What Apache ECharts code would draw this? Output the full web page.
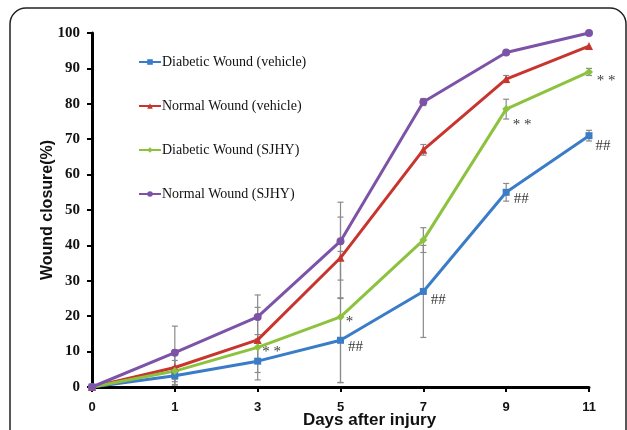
<!DOCTYPE html>
<html><head><meta charset="utf-8">
<script src="https://cdn.jsdelivr.net/npm/echarts@6/dist/echarts.min.js"></script>
<style>html,body{margin:0;padding:0;background:#fff}#c{width:627px;height:430px}</style>
</head><body><div id="c"></div>
<script>
var days = ['0','1','3','5','7','9','11'];
var seriesNames = ['Diabetic Wound (vehicle)','Normal Wound (vehicle)','Diabetic Wound (SJHY)','Normal Wound (SJHY)'];
var diabeticVehicle = [0, 3.2, 7.3, 13.2, 27, 55, 71];
var normalVehicle   = [0, 5.5, 13.3, 36.5, 67, 87, 96.3];
var diabeticSJHY    = [0, 4.5, 11.2, 19.8, 41.5, 78.5, 89];
var normalSJHY      = [0, 9.7, 19.8, 41.2, 80.5, 94.5, 100];
var errDiabeticVehicle = [0, 2.5, 5.3, 12, 13, 2.5, 1.5];
var errNormalVehicle   = [0, 5, 9.2, 11.5, 1.5, 1, 0];
var errDiabeticSJHY    = [0, 3, 3.6, 18.5, 3.5, 2.8, 1];
var errNormalSJHY      = [0, 7.5, 6.2, 11, 1, 0.5, 0];
// annotations: [category index, value, text, dx, dy]
var annotations = [
  [2, 11.2, '* *', 14, 5],
  [3, 19.8, '*', 9, 5],
  [3, 13.2, '##', 15, 7],
  [4, 27, '##', 15, 9],
  [5, 55, '##', 15, 7],
  [5, 78.5, '* *', 16, 16],
  [6, 89, '* *', 17, 9],
  [6, 71, '##', 14, 10]
];
var colors = ['#3a7cc8','#c8352f','#8cc23e','#7c53a6'];
var symbols = ['rect','triangle','diamond','circle'];
var values = [diabeticVehicle, normalVehicle, diabeticSJHY, normalSJHY];
var errs = [errDiabeticVehicle, errNormalVehicle, errDiabeticSJHY, errNormalSJHY];

var series = [];
values.forEach(function(v, i){
  var d = v.map(function(y, k){ return [k, y, errs[i][k]]; });
  series.push({
    type:'custom', name: seriesNames[i]+' err', z: 1,
    renderItem: function(params, api){
      var x = api.value(0), y = api.value(1), e = api.value(2);
      if (!e) return null;
      var top = api.coord([x, y+e]), bot = api.coord([x, y-e]);
      var st = {stroke:'#8a8a8a', lineWidth:1.2};
      return {type:'group', children:[
        {type:'line', shape:{x1:top[0],y1:top[1],x2:bot[0],y2:bot[1]}, style:st},
        {type:'line', shape:{x1:top[0]-3,y1:top[1],x2:top[0]+3,y2:top[1]}, style:st},
        {type:'line', shape:{x1:bot[0]-3,y1:bot[1],x2:bot[0]+3,y2:bot[1]}, style:st}
      ]};
    },
    data: d, silent:true
  });
});
values.forEach(function(v, i){
  series.push({
    type:'line', name: seriesNames[i], data: v, z: 3,
    symbol: symbols[i], symbolSize: i===0?7:8, showSymbol:true,
    lineStyle:{color:colors[i], width:3}, itemStyle:{color:colors[i]}
  });
});
series.push({
  type:'scatter', name:'ann', symbolSize:0, z:5, silent:true,
  data: annotations.map(function(a){ return {value:[a[0], a[1]], label:{show:true, formatter:a[2], offset:[a[3], a[4]]}}; }),
  label:{show:true, position:'inside', color:'#000', fontFamily:'Liberation Serif', fontSize:15}
});

var chart = echarts.init(document.getElementById('c'), null, {renderer:'canvas'});
chart.setOption({
  animation:false,
  color: colors,
  graphic:[{type:'rect', z:-1, shape:{x:10,y:8,width:616,height:470,r:16}, style:{fill:'none', stroke:'#222', lineWidth:1.5}}],
  grid:{left:92, right:38, top:33, bottom:43, containLabel:false, outerBoundsMode:'none'},
  legend:{
    data: seriesNames, orient:'vertical', left:133, top:50, itemGap:30,
    itemWidth:22, itemHeight:7,
    textStyle:{fontFamily:'Liberation Serif', fontSize:14, color:'#111', padding:[0,0,0,-4]}
  },
  xAxis:{
    type:'category', data: days, boundaryGap:false,
    name:'Days after injury', nameLocation:'middle', nameGap:25, nameMoveOverlap:false,
    nameTextStyle:{fontFamily:'Liberation Sans', fontWeight:'bold', fontSize:17, color:'#111', padding:[0,0,0,58]},
    axisLine:{lineStyle:{color:'#000', width:3}},
    axisTick:{show:true, inside:false, length:5, lineStyle:{color:'#000', width:2}, alignWithLabel:true},
    axisLabel:{fontFamily:'Liberation Sans', fontWeight:'bold', fontSize:13, color:'#111', margin:14},
    splitLine:{show:false}
  },
  yAxis:{
    type:'value', min:0, max:100, interval:10,
    name:'Wound closure(%)', nameLocation:'middle', nameGap:36, nameRotate:90, nameMoveOverlap:false,
    nameTextStyle:{fontFamily:'Liberation Sans', fontWeight:'bold', fontSize:16, color:'#111'},
    axisLine:{show:true, lineStyle:{color:'#000', width:3}},
    axisTick:{show:true, length:5, lineStyle:{color:'#000', width:2}},
    axisLabel:{fontFamily:'Liberation Serif', fontWeight:'bold', fontSize:15, color:'#111', margin:12},
    splitLine:{show:false}
  },
  series: series
});
</script></body></html>
